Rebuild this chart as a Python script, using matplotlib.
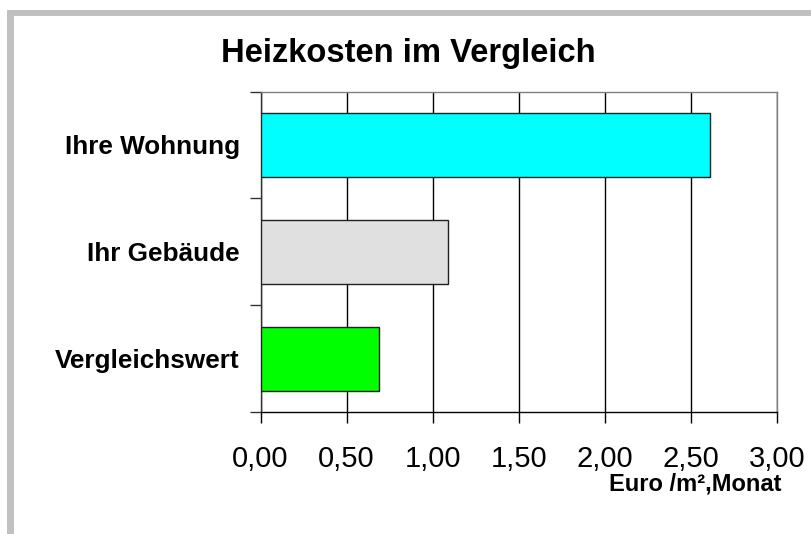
import matplotlib
matplotlib.use('Agg')
import matplotlib.pyplot as plt
from matplotlib.ticker import FixedLocator, FuncFormatter
from matplotlib.patches import Rectangle

plt.rcParams['font.family'] = ['Liberation Sans', 'DejaVu Sans']

# Daten
kategorien = ['Vergleichswert', 'Ihr Gebäude', 'Ihre Wohnung']
werte = [0.69, 1.09, 2.61]
farben = ['#00ff00', '#e0e0e0', '#00ffff']
x_ticks = [0.0, 0.5, 1.0, 1.5, 2.0, 2.5, 3.0]

fig = plt.figure(figsize=(8.12, 5.34), dpi=100)

# grauer Rahmen oben und links
fig.patches.append(Rectangle((7/812, 0), 7/812, 1 - 10/534, transform=fig.transFigure,
                             facecolor='#c0c0c0', edgecolor='none'))
fig.patches.append(Rectangle((7/812, 1 - 16/534), 1, 6/534, transform=fig.transFigure,
                             facecolor='#c0c0c0', edgecolor='none'))

ax = fig.add_axes([260.5/812, 1 - 412/534, 517/812, 320.5/534])

pos = list(range(len(kategorien)))
ax.barh(pos, werte, height=0.6, color=farben, edgecolor='#222222', linewidth=1, zorder=3)

ax.set_xlim(0, 3.0)
ax.set_ylim(-0.5, 2.5)

ax.xaxis.set_major_locator(FixedLocator(x_ticks))
ax.xaxis.set_major_formatter(FuncFormatter(lambda v, p: f'{v:.2f}'.replace('.', ',')))
ax.tick_params(axis='x', direction='out', length=8, width=1, color='black',
               labelsize=21, pad=16)
ax.grid(axis='x', color='black', linewidth=1, zorder=1)

ax.set_yticks(pos)
ax.set_yticklabels(kategorien, fontsize=18.8, fontweight='bold')
ax.tick_params(axis='y', which='major', length=0, pad=15)
ax.yaxis.set_minor_locator(FixedLocator([-0.5, 0.5, 1.5, 2.5]))
ax.tick_params(axis='y', which='minor', direction='out', length=8, width=1, color='#333333')

ax.spines['top'].set_color('#808080')
ax.spines['right'].set_color('#808080')
ax.spines['bottom'].set_color('black')
ax.spines['left'].set_color('#333333')
for s in ax.spines.values():
    s.set_linewidth(1)

fig.text(408.5/812, 1 - 62/534, 'Heizkosten im Vergleich', ha='center', va='baseline',
         fontsize=23.6, fontweight='bold')
fig.text(782/812, 1 - 491/534, 'Euro /m²,Monat', ha='right', va='baseline',
         fontsize=17, fontweight='bold')

fig.savefig('out.png', dpi=100)
